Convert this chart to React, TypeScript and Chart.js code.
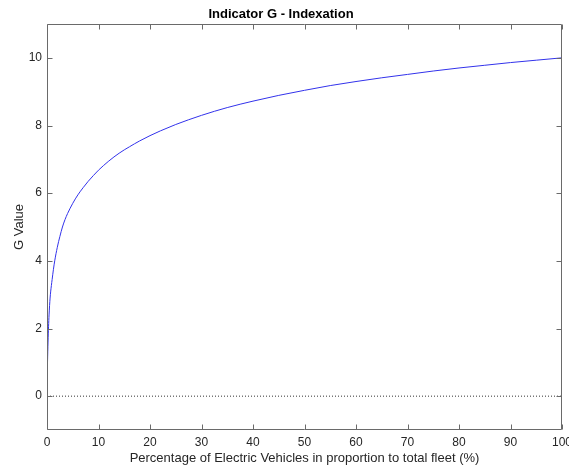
import React, { useEffect, useRef } from 'react';
import { Chart, registerables } from 'chart.js';

Chart.register(...registerables);

const evShare = [0, 0.05, 0.1, 0.2, 0.3, 0.4, 0.6, 0.85, 1, 1.25, 1.5, 2, 2.5, 3, 3.5, 4, 5, 6, 7, 8, 9, 10, 11, 12, 13, 14, 15, 16, 17, 18, 20, 22, 25, 27.5, 30, 35, 40, 45, 50, 55, 60, 65, 70, 75, 80, 85, 90, 95, 100];
const gValue = [0, 0.6, 1.0, 1.6, 2.05, 2.4, 2.9, 3.27, 3.45, 3.75, 4.0, 4.4, 4.72, 5.0, 5.22, 5.4, 5.7, 5.95, 6.16, 6.35, 6.52, 6.68, 6.82, 6.95, 7.07, 7.18, 7.28, 7.37, 7.46, 7.545, 7.7, 7.84, 8.03, 8.17, 8.3, 8.53, 8.72, 8.89, 9.04, 9.18, 9.3, 9.41, 9.51, 9.61, 9.7, 9.78, 9.86, 9.93, 10.0];
const zeroLineX = [0, 100];
const zeroLineY = [0, 0];
const xTicks = [0, 10, 20, 30, 40, 50, 60, 70, 80, 90, 100];
const yTicks = [0, 2, 4, 6, 8, 10];

const FONT = "'Liberation Sans', Arial, Helvetica, sans-serif";

const boxPlugin = {
  id: 'matlabBox',
  afterDraw(chart: any) {
    const { ctx, chartArea } = chart;
    const xs = chart.scales.x;
    const ys = chart.scales.y;
    const L = Math.round(chartArea.left) + 0.5;
    const R = Math.round(chartArea.right) - 0.5;
    const T = Math.round(chartArea.top) + 0.5;
    const B = Math.round(chartArea.bottom) - 0.5;
    const len = 5;
    ctx.save();
    ctx.strokeStyle = '#6a6a6a';
    ctx.lineWidth = 1;
    ctx.beginPath();
    ctx.rect(L, T, R - L, B - T);
    for (const v of xTicks) {
      const px = Math.round(xs.getPixelForValue(v)) + 0.5;
      ctx.moveTo(px, B);
      ctx.lineTo(px, B - len);
      ctx.moveTo(px, T);
      ctx.lineTo(px, T + len);
    }
    for (const v of yTicks) {
      const py = Math.round(ys.getPixelForValue(v)) + 0.5;
      ctx.moveTo(L, py);
      ctx.lineTo(L + len, py);
      ctx.moveTo(R, py);
      ctx.lineTo(R - len, py);
    }
    ctx.stroke();
    ctx.restore();
  },
};

export default function App() {
  const ref = useRef<HTMLCanvasElement | null>(null);
  useEffect(() => {
    if (!ref.current) return;
    const chart = new Chart(ref.current, {
      type: 'line',
      data: {
        datasets: [
          {
            data: zeroLineX.map((x, i) => ({ x, y: zeroLineY[i] })),
            borderColor: '#333333',
            borderWidth: 1,
            borderDash: [1, 2],
            pointRadius: 0,
            fill: false,
          },
          {
            data: evShare.map((x, i) => ({ x, y: gValue[i] })),
            borderColor: 'rgb(50,50,235)',
            borderWidth: 1,
            pointRadius: 0,
            fill: false,
            cubicInterpolationMode: 'monotone',
          },
        ],
      },
      plugins: [boxPlugin],
      options: {
        animation: false,
        responsive: false,
        events: [],
        layout: { padding: { left: 0, right: 7, top: 0, bottom: 0 } },
        plugins: {
          legend: { display: false },
          tooltip: { enabled: false },
          title: {
            display: true,
            text: 'Indicator G - Indexation',
            color: '#000000',
            font: { family: FONT, size: 13, weight: 'bold' },
            padding: { top: 7, bottom: 1.4 },
          },
        },
        scales: {
          x: {
            type: 'linear',
            min: 0,
            max: 100,
            grid: { display: false, drawTicks: false },
            border: { display: false },
            ticks: {
              color: '#262626',
              font: { family: FONT, size: 12 },
              padding: 5,
              maxRotation: 0,
            },
            afterBuildTicks: (s: any) => {
              s.ticks = xTicks.map((v) => ({ value: v }));
            },
            afterFit: (s: any) => {
              s.height = 35;
              s.paddingLeft = 0;
              s.paddingRight = 0;
            },
            title: {
              display: true,
              text: 'Percentage of Electric Vehicles in proportion to total fleet (%)',
              color: '#262626',
              font: { family: FONT, size: 13 },
              padding: { top: -1, bottom: -1 },
            },
          },
          y: {
            type: 'linear',
            min: -1,
            max: 11,
            grid: { display: false, drawTicks: false },
            border: { display: false },
            ticks: {
              color: '#262626',
              font: { family: FONT, size: 12 },
              padding: 5,
            },
            afterBuildTicks: (s: any) => {
              s.ticks = yTicks.map((v) => ({ value: v }));
            },
            afterFit: (s: any) => {
              s.width = 47;
              s.paddingTop = 0;
              s.paddingBottom = 0;
            },
            title: {
              display: true,
              text: 'G Value',
              color: '#262626',
              font: { family: FONT, size: 13 },
              padding: 12,
            },
          },
        },
      },
    } as any);
    return () => chart.destroy();
  }, []);
  return (
    <div style={{ position: 'fixed', left: 0, top: 0, width: 569, height: 465, background: '#ffffff' }}>
      <canvas ref={ref} width={569} height={465} style={{ width: 569, height: 465 }} />
    </div>
  );
}
